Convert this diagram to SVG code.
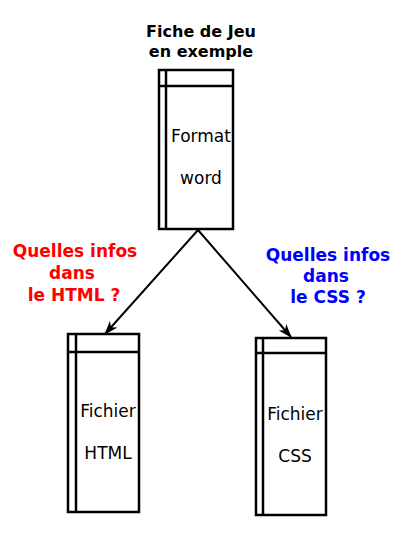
<svg xmlns="http://www.w3.org/2000/svg" width="403" height="537" viewBox="0 0 403 537">
<style>
.box{fill:#fff;stroke:#000;stroke-width:2.5}
.ln{stroke:#000;stroke-width:2.5;fill:none}
.t{font-family:"DejaVu Sans",sans-serif;font-size:17px;fill:#000;text-anchor:middle}
.b{font-family:"DejaVu Sans",sans-serif;font-size:16px;font-weight:bold;text-anchor:middle}
.q{font-family:"DejaVu Sans",sans-serif;font-size:17px;font-weight:bold;text-anchor:middle}
.conn{stroke:#000;stroke-width:2;fill:none}
</style>
<defs>
<marker id="ah" viewBox="0 0 14 10" refX="13" refY="5" markerWidth="14" markerHeight="10" markerUnits="userSpaceOnUse" orient="auto">
<path d="M0,0 L14,5 L0,10 L4,5 Z" fill="#000"/>
</marker>
</defs>
<rect width="403" height="537" fill="#fff"/>
<g id="title">
<text class="b" x="201" y="37" fill="#000">Fiche de Jeu</text>
<text class="b" x="201" y="57" fill="#000">en exemple</text>
</g>
<g id="connectors">
<line class="conn" x1="198" y1="230" x2="105" y2="334" marker-end="url(#ah)"/>
<line class="conn" x1="198" y1="230" x2="291" y2="337" marker-end="url(#ah)"/>
</g>
<g id="node-word">
<rect class="box" x="159" y="70" width="74" height="159"/>
<line class="ln" x1="166" y1="70" x2="166" y2="229"/>
<line class="ln" x1="159" y1="86" x2="233" y2="86"/>
<text class="t" x="201" y="142">Format</text>
<text class="t" x="201" y="184">word</text>
</g>
<g id="node-html">
<rect class="box" x="68" y="334" width="71" height="178"/>
<line class="ln" x1="76" y1="334" x2="76" y2="512"/>
<line class="ln" x1="68" y1="352" x2="139" y2="352"/>
<text class="t" x="108" y="417">Fichier</text>
<text class="t" x="108" y="459">HTML</text>
</g>
<g id="node-css">
<rect class="box" x="256" y="338" width="70" height="177"/>
<line class="ln" x1="263" y1="338" x2="263" y2="515"/>
<line class="ln" x1="256" y1="353" x2="326" y2="353"/>
<text class="t" x="295" y="420">Fichier</text>
<text class="t" x="295" y="462">CSS</text>
</g>
<g id="label-html">
<text class="q" x="75" y="257" fill="#ff0000">Quelles infos</text>
<text class="q" x="72" y="279" fill="#ff0000">dans</text>
<text class="q" x="74" y="301" fill="#ff0000">le HTML ?</text>
</g>
<g id="label-css">
<text class="q" x="328" y="261" fill="#0000ff">Quelles infos</text>
<text class="q" x="326" y="282" fill="#0000ff">dans</text>
<text class="q" x="328" y="303" fill="#0000ff">le CSS ?</text>
</g>
</svg>
